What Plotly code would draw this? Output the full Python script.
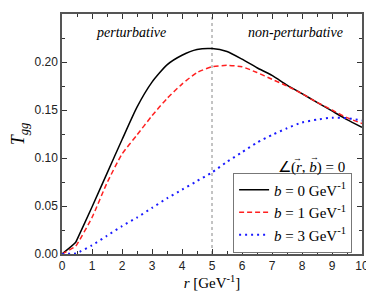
import plotly.graph_objects as go

r = [0, 0.45, 0.5, 1, 1.5, 2, 2.5, 3, 3.5, 4, 4.5, 5, 5.5, 6, 6.5, 7, 7.5, 8, 8.5, 9, 9.5, 10]
t_b0 = [0, 0.012, 0.015, 0.049, 0.084, 0.119, 0.153, 0.179, 0.197, 0.207, 0.213, 0.214, 0.211, 0.203, 0.194, 0.186, 0.176, 0.167, 0.158, 0.149, 0.140, 0.132]
t_b1 = [0, 0.008, 0.010, 0.038, 0.074, 0.104, 0.124, 0.144, 0.162, 0.177, 0.189, 0.195, 0.1965, 0.195, 0.189, 0.182, 0.175, 0.167, 0.158, 0.150, 0.142, 0.136]
t_b3 = [0, 0.0005, 0.001, 0.009, 0.019, 0.029, 0.038, 0.048, 0.058, 0.067, 0.076, 0.085, 0.096, 0.106, 0.116, 0.124, 0.131, 0.137, 0.140, 0.142, 0.1415, 0.139]

names = ["<i>b</i> = 0 GeV<sup>-1</sup>", "<i>b</i> = 1 GeV<sup>-1</sup>", "<i>b</i> = 3 GeV<sup>-1</sup>"]
serif = "Times New Roman, Liberation Serif, serif"
sans = "Arial, Liberation Sans, sans-serif"

fig = go.Figure()
fig.add_trace(go.Scatter(x=r, y=t_b0, mode="lines", name=names[0],
                         line=dict(color="black", width=1.5, shape="spline", smoothing=0.6)))
fig.add_trace(go.Scatter(x=r, y=t_b1, mode="lines", name=names[1],
                         line=dict(color="#ff2020", width=1.5, dash="5px,3px", shape="spline", smoothing=0.6)))
fig.add_trace(go.Scatter(x=r, y=t_b3, mode="lines", name=names[2],
                         line=dict(color="#1a1aff", width=2, dash="2px,4px", shape="spline", smoothing=0.6)))

fig.add_shape(type="line", x0=5, x1=5, y0=0, y1=0.25, xref="x", yref="y",
              line=dict(color="#888888", width=1, dash="dot"), layer="below")

fig.add_annotation(x=2.3, y=0.231, text="<i>perturbative</i>", showarrow=False,
                   font=dict(family=serif, size=14, color="black"))
fig.add_annotation(x=7.77, y=0.231, text="<i>non-perturbative</i>", showarrow=False,
                   font=dict(family=serif, size=14, color="black"))
# angle label with vector arrows drawn as small arrows above r and b
fig.add_annotation(x=8.33, y=0.0905, text="∠(<i>r</i>, <i>b</i>) = 0", showarrow=False,
                   font=dict(family=serif, size=15, color="black"))
fig.add_annotation(x=8.33, y=0.0905, text="→", showarrow=False, xshift=-14, yshift=9,
                   font=dict(family=serif, size=9, color="black"))
fig.add_annotation(x=8.33, y=0.0905, text="→", showarrow=False, xshift=3, yshift=10,
                   font=dict(family=serif, size=9, color="black"))

axis_common = dict(showline=True, linecolor="#555555", linewidth=1.5, mirror="ticks",
                   ticks="inside", ticklen=5, tickwidth=1.2, tickcolor="#333333",
                   showgrid=False, zeroline=False, automargin=False,
                   tickfont=dict(family=sans, size=12, color="#222222"))

fig.update_xaxes(range=[0, 10], dtick=1, tick0=0,
                 minor=dict(dtick=0.5, ticks="inside", ticklen=3, tickcolor="#333333"),
                 title=dict(text="<i>r</i> [GeV<sup>-1</sup>]", font=dict(family=serif, size=15, color="black"), standoff=4),
                 **axis_common)
fig.update_yaxes(range=[0, 0.25], dtick=0.05, tick0=0, tickformat=".2f",
                 minor=dict(dtick=0.025, ticks="inside", ticklen=3, tickcolor="#333333"),
                 title=dict(text="<i>T</i><sub><i>gg</i></sub>", font=dict(family=serif, size=18, color="black"), standoff=6),
                 **axis_common)

# the page body has an 8px margin, so the figure is shrunk by 8px and the margins adjusted
fig.update_layout(
    width=366, height=290,
    margin=dict(l=54, r=12, t=6, b=44, autoexpand=False),
    plot_bgcolor="white", paper_bgcolor="white",
    font=dict(family=serif),
    showlegend=True,
    legend=dict(x=0.967, y=0.006, xanchor="right", yanchor="bottom",
                bgcolor="white", bordercolor="#777777", borderwidth=1,
                font=dict(family=serif, size=15, color="black"),
                itemwidth=30, tracegroupgap=0),
)

fig.write_html("out.html")
